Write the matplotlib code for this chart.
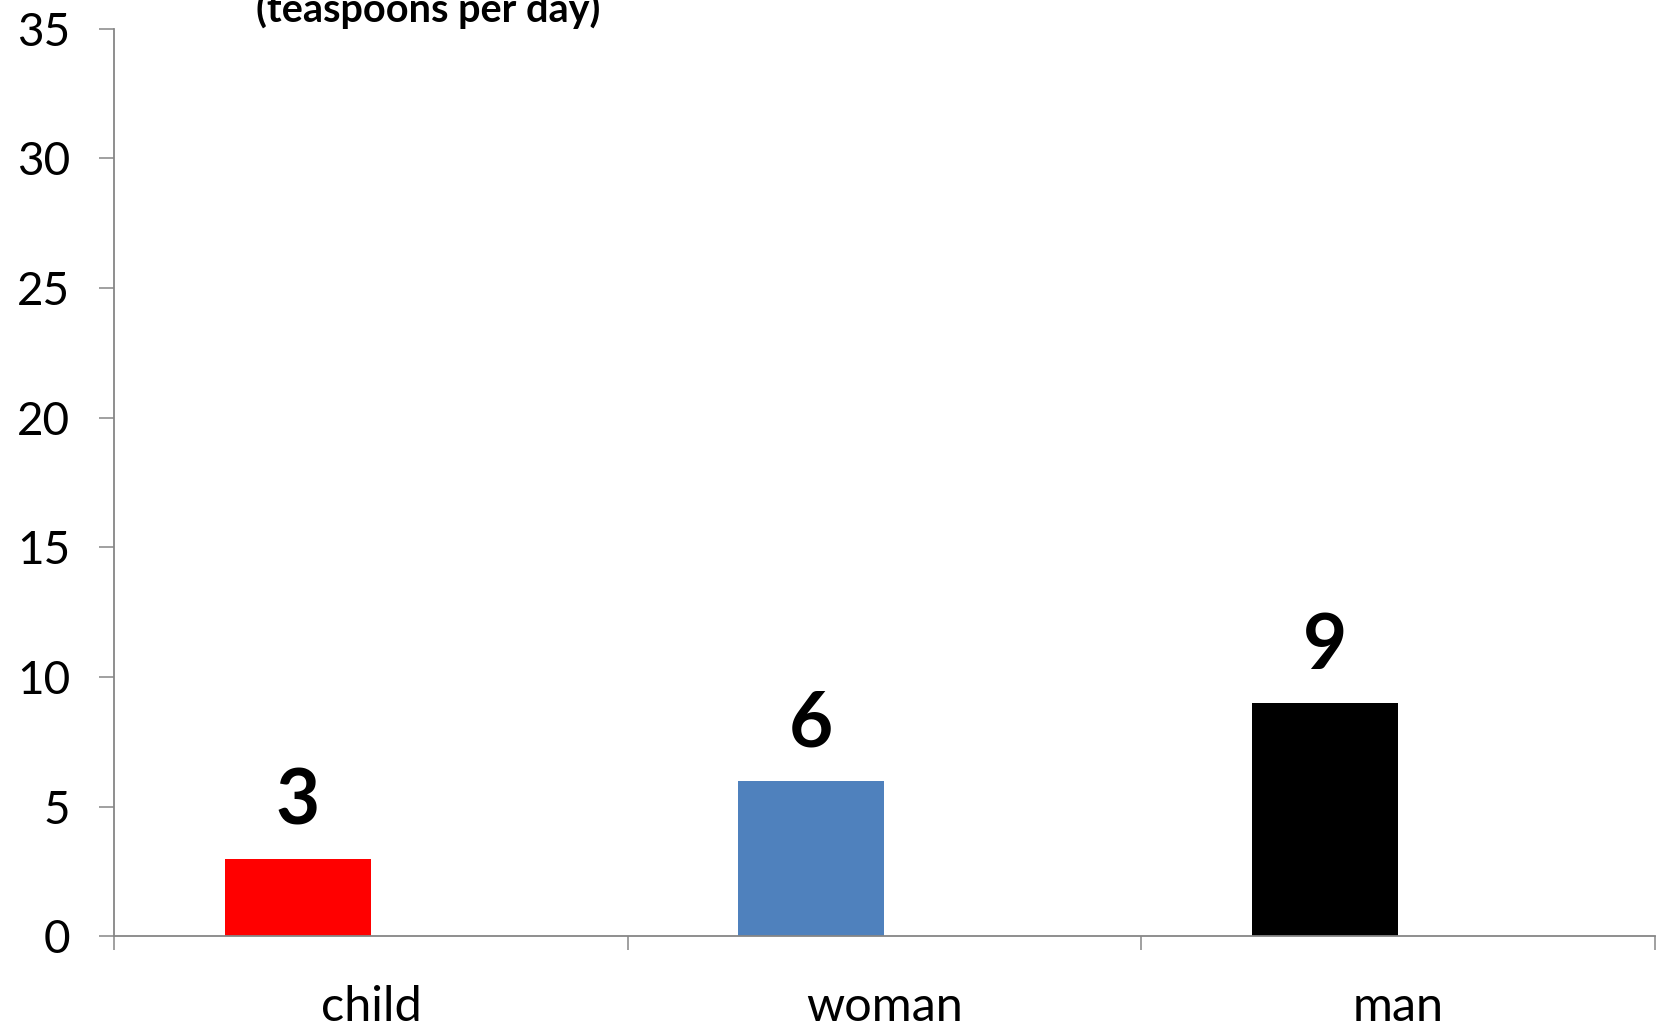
import matplotlib.pyplot as plt

# sugar intake limits, teaspoons per day
groups = ["child", "woman", "man"]
teaspoons = [3, 6, 9]
bar_colors = ["#FF0000", "#4F81BD", "#000000"]

plt.rcParams["font.family"] = ["Lato", "DejaVu Sans"]

fig = plt.figure(figsize=(16.61, 10.28), dpi=100)
ax = fig.add_axes([0.0689, 0.0891, 0.9272, 0.8831])

x = list(range(len(groups)))
width = 0.285
bars = ax.bar([i - width / 2 for i in x], teaspoons, width=width,
              color=bar_colors, zorder=2)

for rect, val in zip(bars, teaspoons):
    ax.annotate(str(val), (rect.get_x() + rect.get_width() / 2, val),
                xytext=(0, 15), textcoords="offset points",
                ha="center", va="bottom", fontsize=55, fontweight="bold")

ax.set_xlim(-0.5, len(groups) - 0.5)
ax.set_ylim(0, 35)
ax.set_yticks(range(0, 36, 5))

# category boundaries get the tick marks, names sit in between
ax.set_xticks([i - 0.5 for i in range(len(groups) + 1)])
ax.set_xticklabels([])
ax.set_xticks(x, minor=True)
ax.set_xticklabels(groups, minor=True)

gray = "#868686"
for side in ["top", "right"]:
    ax.spines[side].set_visible(False)
for side in ["left", "bottom"]:
    ax.spines[side].set_color(gray)
    ax.spines[side].set_linewidth(1.3)

ax.tick_params(axis="y", length=11, width=1.1, color=gray, pad=21,
               labelsize=33)
ax.tick_params(axis="x", which="major", length=10, width=1.1, color=gray)
ax.tick_params(axis="x", which="minor", length=0, pad=35, labelsize=35)

fig.text(0.258, 0.979, "(teaspoons per day)", ha="center", va="baseline",
         fontsize=28.5, fontweight="bold")

fig.savefig("out.png", dpi=100)
